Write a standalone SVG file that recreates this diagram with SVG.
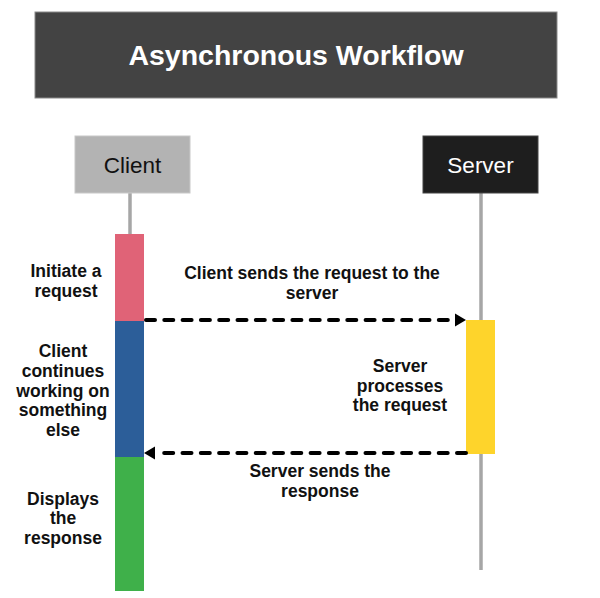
<svg xmlns="http://www.w3.org/2000/svg" width="600" height="598" viewBox="0 0 600 598">
<style>
.lbl{font-family:"Liberation Sans",Arial,sans-serif;font-weight:bold;font-size:17.5px;fill:#111;text-anchor:middle}
.hdr{font-family:"Liberation Sans",Arial,sans-serif;font-size:22.5px;text-anchor:middle}
.life{stroke:#a6a6a6;stroke-width:3.5}
.msg{stroke:#000;stroke-width:4;stroke-dasharray:9 9.3;stroke-linecap:round;fill:none}
</style>
<defs>
<marker id="ah" markerWidth="10" markerHeight="13" refX="10" refY="6.5" orient="auto" markerUnits="userSpaceOnUse">
<path d="M0,0 L10,6.5 L0,13 Z" fill="#000"/>
</marker>
</defs>
<rect width="600" height="598" fill="#fff"/>
<g id="title">
<rect x="35" y="12" width="522" height="86" fill="#434343" stroke="#8a8a8a" stroke-width="1"/>
<text x="296" y="65" font-family="Liberation Sans,Arial,sans-serif" font-weight="bold" font-size="28.5" fill="#fff" text-anchor="middle">Asynchronous Workflow</text>
</g>
<g id="lifelines">
<line class="life" x1="130" y1="193" x2="130" y2="234"/>
<line class="life" x1="481" y1="193" x2="481" y2="570"/>
</g>
<g id="client">
<rect x="75" y="136" width="115" height="57" fill="#b3b3b3" stroke="#c8c8c8" stroke-width="1"/>
<text class="hdr" x="132.5" y="173" fill="#111">Client</text>
</g>
<g id="server">
<rect x="423" y="136" width="115" height="57" fill="#1e1e1e" stroke="#444" stroke-width="1"/>
<text class="hdr" x="480.5" y="173" fill="#fff">Server</text>
</g>
<g id="initiate">
<rect x="115" y="234" width="29" height="87" fill="#e06377"/>
<text class="lbl" x="66" y="277">Initiate a</text>
<text class="lbl" x="66" y="297">request</text>
</g>
<g id="continues">
<rect x="115" y="321" width="29" height="136" fill="#2c5e99"/>
<text class="lbl" x="63" y="357">Client</text>
<text class="lbl" x="63" y="377">continues</text>
<text class="lbl" x="63" y="397">working on</text>
<text class="lbl" x="63" y="416">something</text>
<text class="lbl" x="63" y="436">else</text>
</g>
<g id="displays">
<rect x="115" y="457" width="29" height="134" fill="#3fb04a"/>
<text class="lbl" x="63" y="505">Displays</text>
<text class="lbl" x="63" y="524">the</text>
<text class="lbl" x="63" y="544">response</text>
</g>
<g id="processes">
<rect x="466" y="320" width="29" height="134" fill="#fed42b"/>
<text class="lbl" x="400" y="372">Server</text>
<text class="lbl" x="400" y="392">processes</text>
<text class="lbl" x="400" y="411">the request</text>
</g>
<g id="connectors">
<line class="msg" x1="146" y1="320" x2="455" y2="320"/>
<path d="M455,313.5 L466,320 L455,326.5 Z" fill="#000"/>
<line class="msg" x1="466" y1="453" x2="155" y2="453"/>
<path d="M155,446.5 L144,453 L155,459.5 Z" fill="#000"/>
<text class="lbl" x="312" y="279">Client sends the request to the</text>
<text class="lbl" x="312" y="299">server</text>
<text class="lbl" x="320" y="477">Server sends the</text>
<text class="lbl" x="320" y="497">response</text>
</g>
</svg>
